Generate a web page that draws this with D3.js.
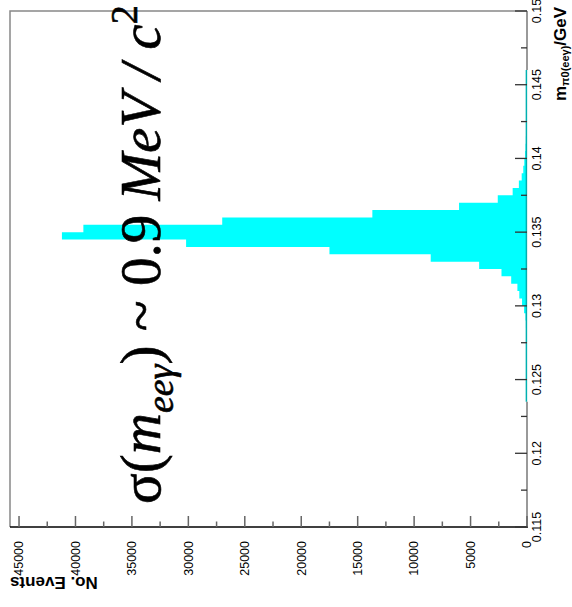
<!DOCTYPE html>
<html><head><meta charset="utf-8">
<script src="https://cdn.jsdelivr.net/npm/d3@7/dist/d3.min.js"></script>
<style>body{margin:0;background:#fff}svg{display:block}
.serif{font-family:"Liberation Serif","Times New Roman",Times,serif}
.sans{font-family:"Liberation Sans",Arial,Helvetica,sans-serif}</style>
</head><body>
<svg id="c" width="572" height="607"></svg>
<script>
// Histogram: m_pi0(eeγ) in GeV, bins of 0.0005 from 0.115 to 0.15
const binLow = 0.115, binWidth = 0.0005;
const counts = [
  0,0,0,0,0,0,0,0,0,0,            // 0.115 - 0.120
  0,0,0,0,0,0,0,10,15,20,         // 0.120 - 0.125
  25,30,35,40,50,60,75,95,130,260, // 0.125 - 0.130
  440,680,850,1400,2260,4240,8530,17500,30200,41200, // 0.130 - 0.135
  39300,27000,13700,6020,2590,1270,720,470,330,240,  // 0.135 - 0.140
  170,130,100,80,65,55,45,40,35,30,                  // 0.140 - 0.145
  25,20,0,0,0,0,0,0,0,0                              // 0.145 - 0.150
];
const countTicks = [0,5000,10000,15000,20000,25000,30000,35000,40000,45000];
const massTicks = [0.115,0.12,0.125,0.13,0.135,0.14,0.145,0.15];
const massTickLabels = ["0.115","0.12","0.125","0.13","0.135","0.14","0.145","0.15"];

const svg = d3.select("#c");
const L = 10, T = 11, R = 527, B = 527;
const xC = d3.scaleLinear().domain([0, 45800]).range([R, L]);
const yM = d3.scaleLinear().domain([0.115, 0.15]).range([B, T]);

const bins = counts.map((v,i)=>({lo: binLow + i*binWidth, hi: binLow + (i+1)*binWidth, v}));
// step-shaped filled histogram (single path, no seams)
const pts = [[0, binLow]];
bins.forEach(d=>{ pts.push([d.v, d.lo]); pts.push([d.v, d.hi]); });
pts.push([0, binLow + bins.length*binWidth]);
const area = d3.line().x(p=>xC(p[0])).y(p=>yM(p[1]));
svg.append("path").attr("d", area(pts) + "Z").attr("fill","#00ffff").attr("stroke","none");
// histogram outline along the axis where tail is non-zero
const nz = bins.filter(d=>d.v>0);
svg.append("line").attr("x1",R-0.6).attr("x2",R-0.6)
  .attr("y1", yM(d3.max(nz,d=>d.hi))).attr("y2", yM(d3.min(nz,d=>d.lo)))
  .attr("stroke","#00b0b0").attr("stroke-width",1.5);

// frame
svg.append("path").attr("d", `M${L},${B}V${T}H${R}`).attr("fill","none")
  .attr("stroke","#888").attr("stroke-width",1.5);
// right (mass) axis
svg.append("line").attr("x1",R).attr("x2",R).attr("y1",T).attr("y2",yM(d3.max(nz,d=>d.hi)))
  .attr("stroke","#777").attr("stroke-width",1.5);
svg.append("line").attr("x1",R).attr("x2",R).attr("y1",yM(d3.min(nz,d=>d.lo))).attr("y2",B)
  .attr("stroke","#777").attr("stroke-width",1.5);
// bottom (count) axis
svg.append("line").attr("x1",L).attr("x2",R+1).attr("y1",B).attr("y2",B)
  .attr("stroke","#000").attr("stroke-width",1.5);

// count ticks
const minorC = d3.range(0, 45800, 2500);
svg.append("g").selectAll("line").data(minorC).join("line")
  .attr("x1", d=>xC(d)).attr("x2", d=>xC(d))
  .attr("y1", B).attr("y2", d=> d%5000===0 ? B-11 : B-5.5)
  .attr("stroke","#666").attr("stroke-width",1.5);
svg.append("g").selectAll("text").data(countTicks).join("text")
  .attr("class","sans")
  .attr("transform", d=>`translate(${xC(d)},541) rotate(-90)`)
  .attr("text-anchor","end").attr("dy","0.35em").attr("font-size",12.5)
  .text(d=>d);
svg.append("text").attr("class","sans").attr("transform","translate(10,577) rotate(180)")
  .attr("text-anchor","end").attr("font-weight","bold").attr("font-size",17).text("No. Events");

// mass ticks
const minorM = d3.range(0, 15).map(i=>0.115 + i*0.0025);
svg.append("g").selectAll("line").data(minorM).join("line")
  .attr("x1", R).attr("x2", (d,i)=> i%2===0 ? R-12 : R-6)
  .attr("y1", d=>yM(d)).attr("y2", d=>yM(d))
  .attr("stroke","#333").attr("stroke-width",1.3);
svg.append("g").selectAll("text").data(massTicks).join("text")
  .attr("class","sans")
  .attr("transform", d=>`translate(537,${yM(d)}) rotate(-90)`)
  .attr("text-anchor","middle").attr("dy","0.35em").attr("font-size",12.5)
  .text((d,i)=>massTickLabels[i]);
const mt = svg.append("text").attr("class","sans").attr("transform","translate(566,101) rotate(-90)")
  .attr("font-weight","bold").attr("font-size",17);
mt.append("tspan").text("m");
mt.append("tspan").attr("font-size",11).attr("dy",3).text("π0(eeγ)");
mt.append("tspan").attr("dy",-3).text("/GeV");

// big annotation
const ann = svg.append("text").attr("class","serif").attr("transform","translate(160,504) rotate(-90)")
  .attr("font-size",57).attr("stroke","#000").attr("stroke-width",0.6);
ann.append("tspan").text("σ(");
ann.append("tspan").attr("font-style","italic").text("m");
ann.append("tspan").attr("font-style","italic").attr("font-size",38).attr("dy",13).text("eeγ");
ann.append("tspan").attr("dy",-13).text(") ~ 0.9 ");
ann.append("tspan").attr("font-style","italic").text("MeV / c");
ann.append("tspan").attr("font-size",38).attr("dy",-23).text("2");
</script>
</body></html>
